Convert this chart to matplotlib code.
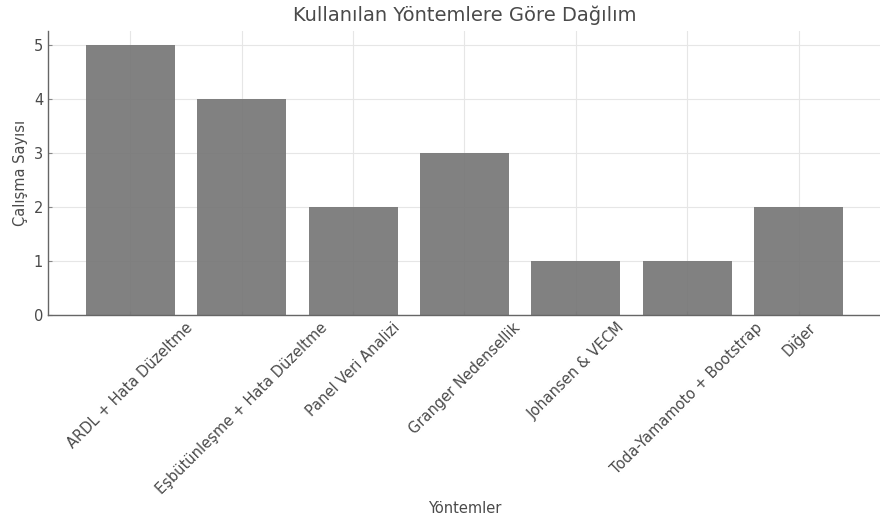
import matplotlib
matplotlib.use("Agg")
import matplotlib.pyplot as plt

categories = ["ARDL + Hata Düzeltme", "Eşbütünleşme + Hata Düzeltme", "Panel Veri Analizi",
              "Granger Nedensellik", "Johansen & VECM", "Toda-Yamamoto + Bootstrap", "Diğer"]
counts = [5, 4, 2, 3, 1, 1, 2]

plt.rcParams['font.family'] = ['DejaVu Sans']
text_c = '#4a4a4a'

fig = plt.figure(figsize=(8.8, 5.26), dpi=100)
ax = fig.add_axes([48/880, 1-315/526, 833/880, (315-31)/526])
ax.bar(categories, counts, width=0.8, color='#7a7a7a', alpha=0.95, zorder=2)
ax.grid(True, color='#e6e6e6', linewidth=0.8, zorder=1)
ax.set_axisbelow(True)
ax.set_ylim(0, 5.25)
ax.set_xlim(-0.74, 6.74)

for s in ['top', 'right']:
    ax.spines[s].set_visible(False)
for s in ['left', 'bottom']:
    ax.spines[s].set_color('#666666')
    ax.spines[s].set_linewidth(1.0)

ax.tick_params(axis='both', direction='in', length=3, color='#888888', labelcolor=text_c, labelsize=10.5)
plt.setp(ax.get_xticklabels(), rotation=45)

ax.set_title("Kullanılan Yöntemlere Göre Dağılım", fontsize=14, color=text_c, pad=7)
ax.set_xlabel("Yöntemler", fontsize=10.5, color=text_c, labelpad=3)
ax.set_ylabel("Çalışma Sayısı", fontsize=10.5, color=text_c)

fig.savefig("out.png", dpi=100)
